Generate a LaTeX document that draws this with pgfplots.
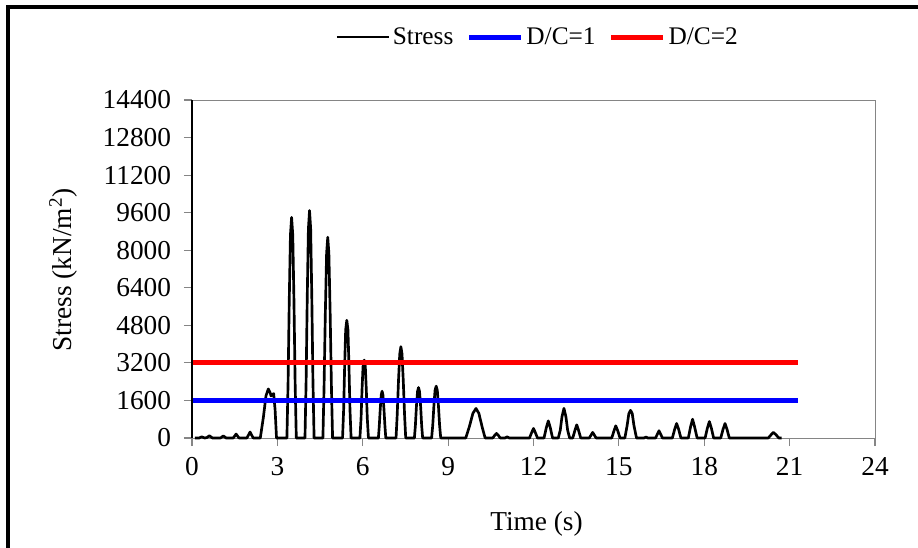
\documentclass[border=0pt]{standalone}
\usepackage{fontspec}
\setmainfont{Liberation Serif}
\usepackage{pgfplots}
\pgfplotsset{compat=1.18}
\begin{document}
\begin{tikzpicture}
\useasboundingbox (0,0) rectangle (688.5pt,-410.25pt);
\draw[line width=3pt] (6pt,-430pt) -- (6pt,-5.25pt) -- (700pt,-5.25pt);
\begin{axis}[
  at={(144pt,-328.5pt)}, anchor=south west,
  scale only axis, width=512.25pt, height=253.5pt,
  xmin=0, xmax=24, ymin=0, ymax=14400,
  xtick={0,3,...,24}, ytick={0,1600,...,14400},
  clip=false,
  axis line style={draw=black!48},
  tick style={draw=black!48, line width=0.9pt},
  tick align=outside, tick pos=left,
  major tick length=6pt,
  scaled ticks=false,
  /pgf/number format/1000 sep={},
  /pgf/number format/assume math mode=true,
  tick label style={font=\fontsize{20.5}{24}\selectfont},
  yticklabel style={xshift=-6.2pt},
  xticklabel style={yshift=-5.2pt},
  label style={font=\fontsize{20.5}{24}\selectfont},
  xlabel={Time (s)},
  ylabel={Stress (kN/m\textsuperscript{2})},
  xlabel style={at={(axis description cs:0.5044,-0.2544)}, anchor=center},
  ylabel style={at={(axis description cs:-0.1881,0.497)}, anchor=center},
  legend columns=3,
  legend style={draw=none, fill=none, at={(axis description cs:0.5066,1.1864)}, anchor=center,
    font=\fontsize{19}{22}\selectfont,
    /tikz/every even column/.append style={column sep=8pt},
    inner sep=0pt},
  legend image code/.code={\draw[#1] (0pt,0pt) -- (39pt,0pt);},
]
\addplot[black, line width=2pt, line join=round] coordinates {
(0.10,0)(0.25,0)(0.34,50)(0.45,0)(0.52,20)(0.61,95)(0.72,0)(1.00,0)(1.10,90)(1.20,0)
(1.45,0)(1.55,170)(1.65,0)(1.93,0)(2.04,255)(2.15,0)
(2.40,0)(2.51,900)(2.60,1800)(2.68,2090)(2.74,1950)(2.78,1790)(2.83,1860)(2.87,1890)(2.92,1200)(2.97,0)
(3.335,0)(3.376,2350)(3.417,5830)(3.459,8650)(3.50,9400)(3.541,8650)(3.583,5830)(3.624,2350)(3.665,0)
(3.97,0)(4.01,2420)(4.05,6010)(4.09,8910)(4.13,9690)(4.17,8910)(4.21,6010)(4.25,2420)(4.29,0)
(4.60,0)(4.64,2140)(4.685,5300)(4.73,7870)(4.77,8550)(4.81,7870)(4.855,5300)(4.90,2140)(4.94,0)
(5.29,0)(5.33,1250)(5.365,3110)(5.40,4610)(5.44,5015)(5.48,4610)(5.515,3110)(5.55,1250)(5.59,0)
(5.90,0)(5.94,830)(5.975,2060)(6.01,3050)(6.05,3320)(6.09,3050)(6.125,2060)(6.16,830)(6.20,0)
(6.55,0)(6.58,500)(6.615,1240)(6.65,1835)(6.68,1995)(6.71,1835)(6.745,1240)(6.78,500)(6.81,0)
(7.17,0)(7.21,970)(7.255,2410)(7.30,3580)(7.34,3890)(7.38,3580)(7.425,2410)(7.47,970)(7.51,0)
(7.815,0)(7.85,540)(7.885,1330)(7.925,1980)(7.96,2150)(7.995,1980)(8.035,1330)(8.07,540)(8.105,0)
(8.42,0)(8.46,550)(8.50,1370)(8.54,2030)(8.58,2210)(8.62,2030)(8.66,1370)(8.70,550)(8.74,0)
(9.62,0)(9.75,500)(9.87,1050)(9.98,1260)(10.08,1050)(10.20,450)(10.30,0)
(10.57,0)(10.64,120)(10.70,196)(10.76,120)(10.83,0)
(11.00,0)(11.07,50)(11.15,0)
(11.86,0)(11.94,245)(12.00,407)(12.06,245)(12.14,0)
(12.37,0)(12.45,440)(12.52,730)(12.59,440)(12.67,0)
(12.87,0)(12.94,330)(13.00,900)(13.07,1263)(13.14,900)(13.20,330)(13.27,0)
(13.38,0)(13.46,340)(13.52,561)(13.58,340)(13.66,0)
(13.96,0)(14.03,140)(14.08,238)(14.13,140)(14.20,0)
(14.75,0)(14.83,310)(14.89,519)(14.96,310)(15.04,0)
(15.21,0)(15.29,530)(15.35,1040)(15.41,1179)(15.47,1040)(15.53,530)(15.62,0)
(15.88,0)(15.95,40)(16.02,0)
(16.29,0)(16.36,185)(16.41,309)(16.46,185)(16.53,0)
(16.88,0)(16.96,370)(17.03,618)(17.10,370)(17.18,0)
(17.44,0)(17.52,480)(17.59,800)(17.66,480)(17.75,0)
(18.03,0)(18.11,420)(18.18,702)(18.25,420)(18.33,0)
(18.58,0)(18.66,370)(18.73,618)(18.80,370)(18.88,0)
(20.25,0)(20.35,140)(20.43,238)(20.52,140)(20.62,0)(20.72,0)
};
\addlegendentry{Stress}
\addplot[color={rgb,255:red,0;green,0;blue,255}, line width=3.75pt] coordinates {(0,1600)(21.3,1600)};
\addlegendentry{D/C=1}
\addplot[color={rgb,255:red,255;green,0;blue,0}, line width=3.75pt] coordinates {(0,3200)(21.3,3200)};
\addlegendentry{D/C=2}
\draw[black, line width=1pt] (axis description cs:0,0) -- (axis description cs:0,1);
\end{axis}
\end{tikzpicture}
\end{document}
